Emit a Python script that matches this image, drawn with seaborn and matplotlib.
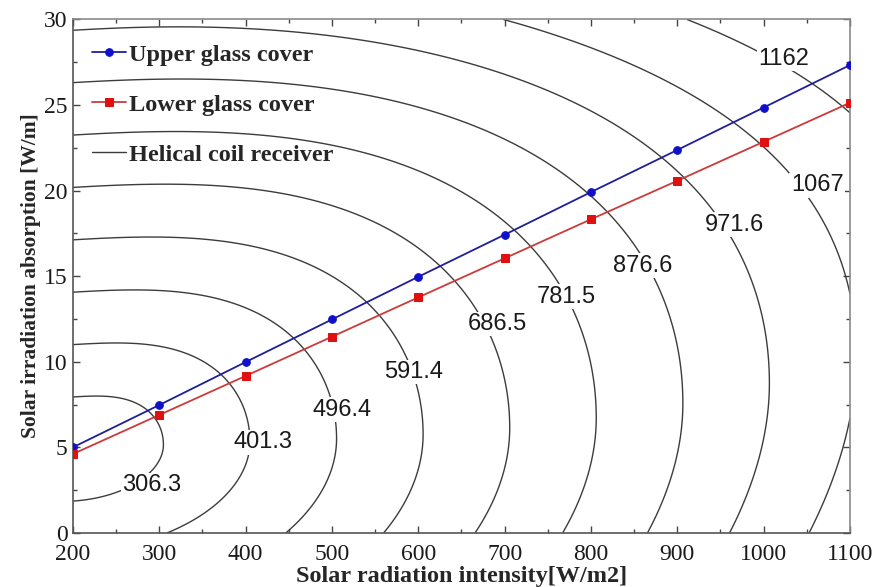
import numpy as np
import pandas as pd
import matplotlib
matplotlib.use("Agg")
import matplotlib.pyplot as plt
from matplotlib.ticker import MultipleLocator
import seaborn as sns

# Solar radiation intensity [W/m2]
intensity = [200, 300, 400, 500, 600, 700, 800, 900, 1000, 1100]
# Absorbed irradiation of the two glass covers [W/m]
upper_cover = [5.0, 7.47, 9.98, 12.47, 14.96, 17.42, 19.91, 22.37, 24.85, 27.33]
lower_cover = [4.61, 6.89, 9.17, 11.46, 13.76, 16.04, 18.32, 20.57, 22.85, 25.13]

# Helical coil receiver absorption contours
coil_levels = [306.3, 401.3, 496.4, 591.4, 686.5, 781.5, 876.6, 971.6, 1067, 1162]
coil_labels = ["306.3", "401.3", "496.4", "591.4", "686.5",
               "781.5", "876.6", "971.6", "1067", "1162"]

# Shape of the receiver absorption surface
COIL_X0, COIL_Y0 = 200.0, 4.9
CENTER_C1, CENTER_C2, CENTER_C3 = 0.003, -6.6e-6, 1.089e-8   # ridge line y_c(dx)
WIDTH_K, WIDTH_BASE = 1.055, 207.0      # horizontal half-width per level
HEIGHT_K, HEIGHT_BASE = 0.0322, 211.9   # vertical half-height per level

# where the contour labels sit
label_spots = [(291, 2.8), (420, 5.3), (512, 7.2), (594, 9.4), (692, 12.2),
               (771, 13.8), (860, 15.6), (966, 18.0), (1062, 20.3), (1023, 27.7)]


def receiver_field(gx, gy):
    dx = gx - COIL_X0
    dy = gy - (COIL_Y0 + CENTER_C1 * dx + CENTER_C2 * dx ** 2 + CENTER_C3 * dx ** 3)
    lo = np.full(dx.shape, max(WIDTH_BASE, HEIGHT_BASE) + 1e-3)
    hi = np.full(dx.shape, 1600.0)
    upper = dy >= 0
    for _ in range(60):
        mid = 0.5 * (lo + hi)
        s = mid - WIDTH_BASE
        a = WIDTH_K * s
        b = HEIGHT_K * (mid - HEIGHT_BASE)
        p_up = np.clip(3.1 - 1.4 * (s / 1000.0) ** 4, 2.2, 3.1)
        p = np.where(upper, p_up, 2.0)
        g = np.abs(dx / a) ** p + (dy / b) ** 2 - 1.0
        outside = g > 0
        lo = np.where(outside, mid, lo)
        hi = np.where(outside, hi, mid)
    return 0.5 * (lo + hi)


sns.set_theme(style="ticks")
plt.rcParams["font.family"] = ["Liberation Serif", "DejaVu Serif"]

fig = plt.figure(figsize=(8.76, 5.87), dpi=100)
ax = fig.add_axes([0.0833, 0.0922, 0.8870, 0.8748])

gx, gy = np.meshgrid(np.linspace(200, 1100, 451), np.linspace(0, 30, 301))
field = receiver_field(gx, gy)

cs = ax.contour(gx, gy, field, levels=coil_levels, colors="#3c3c3c",
                linewidths=1.0, zorder=2)
fmt = {lv: lb for lv, lb in zip(coil_levels, coil_labels)}
texts = ax.clabel(cs, inline=False, fmt=fmt, manual=label_spots, fontsize=17)
for t in texts:
    # keep labels upright and centred on their spot, masking the line behind
    lab = t.get_text()
    t.set_position(label_spots[coil_labels.index(lab)])
    t.set_rotation(0)
    t.set_fontfamily("Liberation Sans")
    t.set_color("#1a1a1a")
    t.set_bbox(dict(facecolor="white", edgecolor="none", pad=1.0))
    t.set_zorder(3)

df = pd.DataFrame({"x": intensity, "upper": upper_cover, "lower": lower_cover})
sns.lineplot(data=df, x="x", y="upper", ax=ax, color="#1f1f99", lw=1.3,
             marker="o", markersize=5.5, markerfacecolor="#1010cc",
             markeredgecolor="#1010cc", label="Upper glass cover", zorder=4)
sns.lineplot(data=df, x="x", y="lower", ax=ax, color="#cc3a3a", lw=1.3,
             marker="s", markersize=5.5, markerfacecolor="#e01010",
             markeredgecolor="#e01010", label="Lower glass cover", zorder=4)
ax.plot([], [], color="#3c3c3c", lw=1.0, label="Helical coil receiver")

ax.set_xlim(200, 1100)
ax.set_ylim(0, 30)
ax.xaxis.set_major_locator(MultipleLocator(100))
ax.xaxis.set_minor_locator(MultipleLocator(50))
ax.yaxis.set_major_locator(MultipleLocator(5))
ax.yaxis.set_minor_locator(MultipleLocator(2.5))
ax.tick_params(which="both", direction="in", top=True, right=True,
               colors="#444444", labelcolor="#1a1a1a", width=1.0)
ax.tick_params(which="major", length=5, labelsize=17)
ax.tick_params(axis="x", which="major", pad=8)
ax.tick_params(axis="y", which="major", pad=4)
ax.tick_params(which="minor", length=3)
for sp in ax.spines.values():
    sp.set_color("#555555")
    sp.set_linewidth(1.2)
for side in ("top", "right"):
    ax.spines[side].set_color("#8a8a8a")

ax.set_xlabel("Solar radiation intensity[W/m2]", fontsize=17.5, fontweight="bold",
              labelpad=1)
ax.set_ylabel("Solar irradiation absorption [W/m]", fontsize=15.5, fontweight="bold",
              labelpad=2)

leg = ax.legend(loc="upper left", bbox_to_anchor=(0.0, 0.99), frameon=False,
                prop={"family": "Liberation Serif", "weight": "bold", "size": 17.5},
                handlelength=1.4, handletextpad=0.1, labelspacing=1.15,
                borderaxespad=0.4)

fig.savefig("out.png", dpi=100)
